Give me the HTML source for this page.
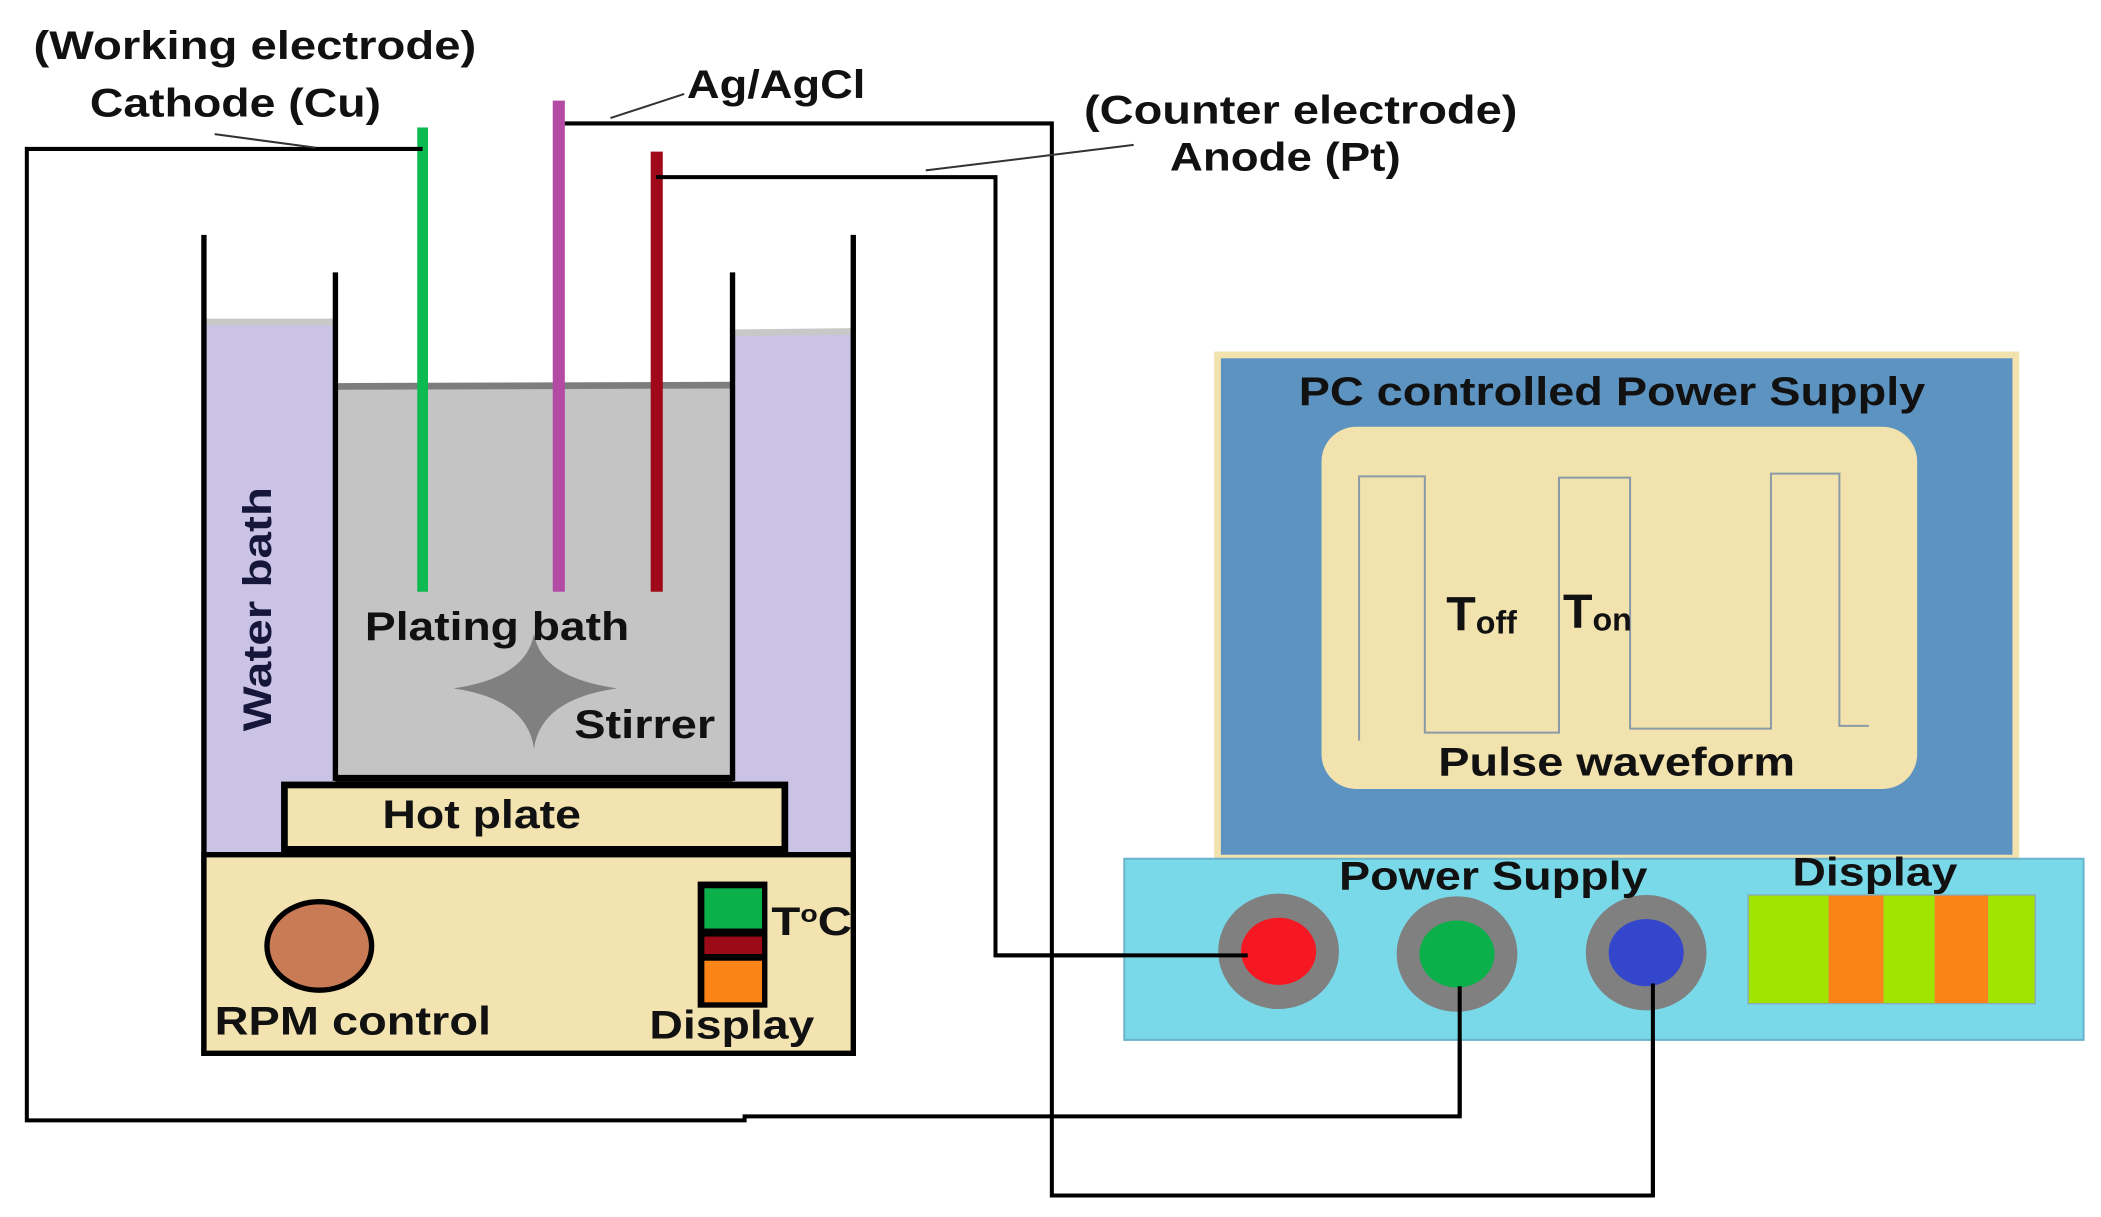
<!DOCTYPE html>
<html><head><meta charset="utf-8"><style>html,body{margin:0;padding:0;background:#fff}svg{display:block}</style></head><body>
<svg width="2101" height="1217" viewBox="0 0 1566 907" preserveAspectRatio="none" xmlns="http://www.w3.org/2000/svg" font-family="Liberation Sans, Arial, sans-serif" font-weight="bold">
<rect width="1566" height="907" fill="#fff"/>
<rect x="152" y="240" width="98" height="396" fill="#cbc3e6"/>
<rect x="546" y="248" width="90" height="388" fill="#cbc3e6"/>
<line x1="152" y1="240" x2="250" y2="240" stroke="#c8c8c8" stroke-width="5"/>
<line x1="546" y1="248" x2="636" y2="247" stroke="#c8c8c8" stroke-width="5"/>
<rect x="252" y="288" width="293" height="292" fill="#c4c4c4"/>
<line x1="250" y1="288" x2="546" y2="287" stroke="#7d7d7d" stroke-width="5"/>
<line x1="152" y1="175" x2="152" y2="787" stroke="#000" stroke-width="4"/>
<line x1="636" y1="175" x2="636" y2="787" stroke="#000" stroke-width="4"/>
<line x1="250" y1="203" x2="250" y2="582" stroke="#000" stroke-width="4"/>
<line x1="546" y1="203" x2="546" y2="582" stroke="#000" stroke-width="4"/>
<line x1="250" y1="580" x2="546" y2="580" stroke="#000" stroke-width="5"/>
<rect x="212" y="585" width="373" height="48" fill="#f3e3b0" stroke="#000" stroke-width="5"/>
<rect x="152" y="637" width="484" height="148" fill="#f3e3b0" stroke="#000" stroke-width="4"/>
<ellipse cx="238" cy="705" rx="39" ry="33" fill="#c97b55" stroke="#000" stroke-width="4"/>
<rect x="520" y="657" width="52" height="94" fill="#000"/>
<rect x="525" y="662" width="43" height="30" fill="#0bb04a"/>
<rect x="525" y="698" width="43" height="13" fill="#9b0a16"/>
<rect x="525" y="716" width="43" height="31" fill="#fb8418"/>
<path d="M398,472 Q403,505 460,513 Q403,521 398,558 Q393,521 338,513 Q393,505 398,472 Z" fill="#808080"/>
<rect x="311" y="95" width="8" height="346" fill="#0dba4f"/>
<rect x="412" y="75" width="9" height="366" fill="#b34aa4"/>
<rect x="485" y="113" width="9" height="328" fill="#a00a18"/>
<g fill="none" stroke="#000" stroke-width="3">
<polyline points="315,111 20,111 20,835 555,835 555,832 1088,832 1088,730"/>
<polyline points="421,92 784,92 784,891 1232,891 1232,730"/>
<polyline points="489,132 742,132 742,712 925,712"/>
</g>
<g stroke="#333" stroke-width="1.5" fill="none">
<line x1="160" y1="100" x2="235" y2="110"/>
<line x1="455" y1="88" x2="510" y2="70"/>
<line x1="690" y1="127" x2="845" y2="108"/>
</g>
<rect x="905" y="262" width="600" height="378" fill="#f2e2ae"/>
<rect x="910" y="267" width="590" height="370" fill="#5d93c1"/>
<rect x="985" y="318" width="444" height="270" rx="26" fill="#f2e2ae"/>
<polyline points="1013,552 1013,355 1062,355 1062,546 1162,546 1162,356 1215,356 1215,543 1320,543 1320,353 1371,353 1371,541 1393,541" fill="none" stroke="#8a9aa6" stroke-width="1.5"/>
<rect x="838" y="640" width="715" height="135" fill="#79d9e9" stroke="#6ab3cc" stroke-width="1.5"/>
<ellipse cx="953" cy="709" rx="45" ry="43" fill="#808080"/>
<ellipse cx="953" cy="709" rx="28" ry="25" fill="#f51823"/>
<ellipse cx="1086" cy="711" rx="45" ry="43" fill="#808080"/>
<ellipse cx="1086" cy="711" rx="28" ry="25" fill="#0bb04a"/>
<ellipse cx="1227" cy="710" rx="45" ry="43" fill="#808080"/>
<ellipse cx="1227" cy="710" rx="28" ry="25" fill="#3446cc"/>
<g fill="none" stroke="#000" stroke-width="3">
<line x1="742" y1="712" x2="930" y2="712"/>
<line x1="1088" y1="735" x2="1088" y2="832"/>
<line x1="1232" y1="733" x2="1232" y2="891"/>
</g>
<rect x="1303" y="667" width="60" height="81" fill="#a0e400"/>
<rect x="1363" y="667" width="41" height="81" fill="#fb8418"/>
<rect x="1404" y="667" width="38" height="81" fill="#a0e400"/>
<rect x="1442" y="667" width="40" height="81" fill="#fb8418"/>
<rect x="1482" y="667" width="35" height="81" fill="#a0e400"/>
<rect x="1303" y="667" width="214" height="81" fill="none" stroke="#8ab" stroke-width="1"/>
<g fill="#111" font-size="30">
<text x="25" y="44" textLength="330" lengthAdjust="spacingAndGlyphs">(Working electrode)</text>
<text x="67" y="87" textLength="217" lengthAdjust="spacingAndGlyphs">Cathode (Cu)</text>
<text x="512" y="73" textLength="133" lengthAdjust="spacingAndGlyphs">Ag/AgCl</text>
<text x="808" y="92" textLength="323" lengthAdjust="spacingAndGlyphs">(Counter electrode)</text>
<text x="872" y="127" textLength="172" lengthAdjust="spacingAndGlyphs">Anode (Pt)</text>
<text x="272" y="477" textLength="197" lengthAdjust="spacingAndGlyphs">Plating bath</text>
<text x="428" y="550" textLength="105" lengthAdjust="spacingAndGlyphs">Stirrer</text>
<text x="285" y="617" textLength="148" lengthAdjust="spacingAndGlyphs">Hot plate</text>
<text x="160" y="771" textLength="206" lengthAdjust="spacingAndGlyphs">RPM control</text>
<text x="484" y="774" textLength="123" lengthAdjust="spacingAndGlyphs">Display</text>
<text x="575" y="697" textLength="60" lengthAdjust="spacingAndGlyphs">T<tspan font-size="18" dy="-10">o</tspan><tspan dy="10">C</tspan></text>
<text transform="translate(202,545) rotate(-90)" fill="#16163a" textLength="182" lengthAdjust="spacingAndGlyphs">Water bath</text>
<text x="968" y="302" textLength="467" lengthAdjust="spacingAndGlyphs">PC controlled Power Supply</text>
<text x="1072" y="578" textLength="266" lengthAdjust="spacingAndGlyphs">Pulse waveform</text>
<text x="998" y="663" textLength="230" lengthAdjust="spacingAndGlyphs">Power Supply</text>
<text x="1336" y="660" textLength="123" lengthAdjust="spacingAndGlyphs">Display</text>
<text x="1078" y="470" font-size="36">T<tspan font-size="24" dy="2">off</tspan></text>
<text x="1165" y="468" font-size="36">T<tspan font-size="24" dy="2">on</tspan></text>
</g>
</svg>
</body></html>
